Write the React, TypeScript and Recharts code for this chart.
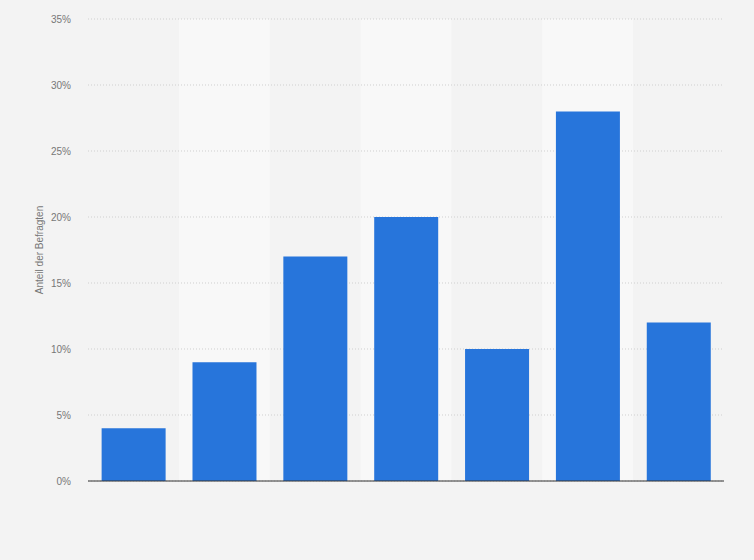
import React from 'react';
import { BarChart, Bar, XAxis, YAxis, CartesianGrid, ReferenceArea } from 'recharts';

// Categories have no visible labels in the reference
const categories = ['A', 'B', 'C', 'D', 'E', 'F', 'G'];
const shares = [4, 9, 17, 20, 10, 28, 12];
const yTicks = [0, 5, 10, 15, 20, 25, 30, 35];

const data = categories.map((name, i) => ({ name, value: shares[i] }));
const shaded = categories.filter((_, i) => i % 2 === 1);

export default function App() {
    return (
        <div style={{ position: 'absolute', left: 0, top: 0, width: 754, height: 560, background: '#f3f3f3', fontFamily: '"Liberation Sans", Arial, sans-serif' }}>
            <BarChart
                width={754}
                height={560}
                data={data}
                margin={{ top: 19, right: 30, left: 0, bottom: 78 }}
                barCategoryGap="15%"
            >
                {shaded.map((c) => (
                    <ReferenceArea key={c} x1={c} x2={c} fill="#f8f8f8" fillOpacity={1} stroke="none" zIndex={-150} />
                ))}
                <CartesianGrid vertical={false} stroke="#cfcfcf" strokeDasharray="1 2" />
                <XAxis
                    dataKey="name"
                    tick={false}
                    tickLine={false}
                    height={1}
                    axisLine={{ stroke: '#333333', strokeWidth: 1 }}
                />
                <YAxis
                    width={88}
                    domain={[0, 35]}
                    ticks={yTicks}
                    tickFormatter={(v) => `${v}%`}
                    axisLine={false}
                    tickLine={false}
                    tickMargin={11}
                    tick={{ fontSize: 10, fill: '#777777' }}
                    label={{ value: 'Anteil der Befragten', angle: -90, position: 'insideLeft', offset: 39, style: { fontSize: 10, fill: '#777777', textAnchor: 'middle' } }}
                />
                <Bar dataKey="value" fill="#2775db" isAnimationActive={false} />
            </BarChart>
        </div>
    );
}
